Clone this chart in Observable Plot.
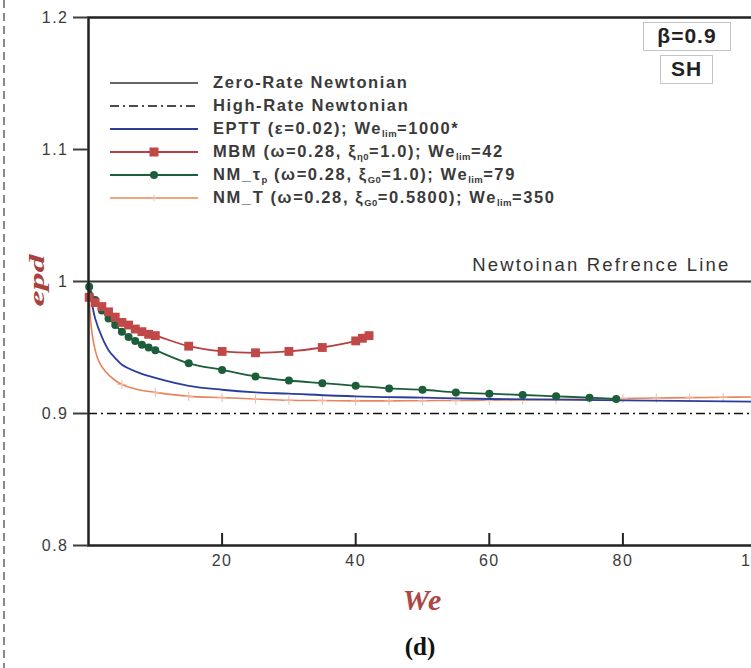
<!DOCTYPE html>
<html><head><meta charset="utf-8">
<script src="https://cdn.jsdelivr.net/npm/d3@7"></script>
<script src="https://cdn.jsdelivr.net/npm/@observablehq/plot@0.6"></script>
<style>
html,body{margin:0;padding:0;background:#fff;overflow:hidden;}
#wrap{position:relative;width:751px;height:668px;font-family:"Liberation Sans",Arial,sans-serif;overflow:hidden;}
#border{position:absolute;left:3px;top:0;width:2px;height:668px;background:repeating-linear-gradient(to bottom,#8a8a8a 0 8px,transparent 8px 13px);}
#chart{position:absolute;left:0;top:0;}
.legend{position:absolute;left:110px;top:71px;}
.row{display:flex;align-items:center;height:23px;}
.row svg{width:88px;height:14px;margin-right:15px;flex:none;}
.row span{font-size:16.5px;font-weight:bold;color:#3a3a3a;letter-spacing:1.6px;white-space:nowrap;}
.row sub{font-size:9.5px;letter-spacing:0.4px;vertical-align:-3px;line-height:0;}
.box{position:absolute;border:1.5px solid #c4c4c4;background:#fff;font-weight:bold;text-align:center;color:#222;box-sizing:border-box;letter-spacing:1px;}
#cap{position:absolute;left:370px;top:633px;width:100px;text-align:center;font-family:"Liberation Serif","Times New Roman",serif;font-weight:bold;font-size:25px;color:#111;}
</style>
</head><body>
<div id="wrap">
  <div id="chart"></div>
  <div id="border"></div>
  <div class="legend">
    <div class="row"><svg><line x1="0" x2="88" y1="7" y2="7" stroke="#333" stroke-width="1.6"/></svg><span>Zero-Rate Newtonian</span></div>
    <div class="row"><svg><line x1="0" x2="88" y1="7" y2="7" stroke="#111" stroke-width="1.6" stroke-dasharray="9,4,2,4"/></svg><span>High-Rate Newtonian</span></div>
    <div class="row"><svg><line x1="0" x2="88" y1="7" y2="7" stroke="#2c3e9c" stroke-width="1.8"/></svg><span>EPTT (ε=0.02); We<sub>lim</sub>=1000*</span></div>
    <div class="row"><svg><line x1="0" x2="88" y1="7" y2="7" stroke="#b5403f" stroke-width="1.8"/><rect x="39.5" y="2.5" width="9" height="9" fill="#c04848"/></svg><span>MBM (ω=0.28, ξ<sub>η0</sub>=1.0); We<sub>lim</sub>=42</span></div>
    <div class="row"><svg><line x1="0" x2="88" y1="7" y2="7" stroke="#1d5e3a" stroke-width="1.8"/><circle cx="44" cy="7" r="4" fill="#1d5e3a"/></svg><span>NM_τ<sub>p</sub> (ω=0.28, ξ<sub>G0</sub>=1.0); We<sub>lim</sub>=79</span></div>
    <div class="row"><svg><line x1="0" x2="88" y1="7" y2="7" stroke="#e8845c" stroke-width="1.6"/><path d="M41,7h6M44,4v6" stroke="#f3b8a4" stroke-width="1"/></svg><span>NM_T (ω=0.28, ξ<sub>G0</sub>=0.5800); We<sub>lim</sub>=350</span></div>
  </div>
  <div class="box" style="left:643px;top:22px;width:88px;height:29px;font-size:21px;line-height:26px;">β=0.9</div>
  <div class="box" style="left:660px;top:55px;width:53px;height:29px;font-size:21px;line-height:26px;">SH</div>
  <div id="cap">(d)</div>
</div>
<script>
// Axis ticks
const xTicks = [20, 40, 60, 80, 100];
const yTicks = [0.8, 0.9, 1.0, 1.1, 1.2];
// Reference lines
const refLine = [1.0];
const highRate = [0.9];

// EPTT (eps=0.02)
const EPTT_We = [0, 0.5, 1, 2, 3, 4, 5, 7.5, 10, 15, 20, 25, 30, 40, 50, 60, 80, 100];
const EPTT_y  = [1.0, 0.984, 0.972, 0.958, 0.948, 0.942, 0.937, 0.931, 0.927, 0.921, 0.918, 0.916, 0.915, 0.913, 0.912, 0.911, 0.910, 0.909];

// MBM
const MBM_We = [0.1, 1, 2, 3, 4, 5, 6, 7, 8, 9, 10, 15, 20, 25, 30, 35, 40, 41, 42];
const MBM_y  = [0.988, 0.984, 0.981, 0.977, 0.973, 0.969, 0.967, 0.964, 0.962, 0.960, 0.959, 0.951, 0.947, 0.946, 0.947, 0.950, 0.955, 0.957, 0.959];

// NM_tau_p
const NMP_We = [0.1, 1, 2, 3, 4, 5, 6, 7, 8, 9, 10, 15, 20, 25, 30, 35, 40, 45, 50, 55, 60, 65, 70, 75, 79];
const NMP_y  = [0.996, 0.986, 0.978, 0.972, 0.967, 0.962, 0.958, 0.955, 0.952, 0.950, 0.948, 0.938, 0.933, 0.928, 0.925, 0.923, 0.921, 0.919, 0.918, 0.916, 0.915, 0.914, 0.913, 0.912, 0.911];

// NM_T
const NMT_We = [0, 0.25, 0.5, 1, 1.5, 2.5, 4, 5, 7.5, 10, 15, 20, 25, 30, 35, 40, 45, 50, 55, 60, 65, 70, 75, 80, 85, 90, 95, 100];
const NMT_y  = [1.0, 0.975, 0.962, 0.948, 0.940, 0.932, 0.925, 0.922, 0.918, 0.916, 0.913, 0.912, 0.911, 0.910, 0.9098, 0.9096, 0.9096, 0.9097, 0.9099, 0.910, 0.9103, 0.9107, 0.911, 0.9113, 0.9117, 0.912, 0.9123, 0.9126];

const C = {eptt: "#2c3e9c", mbm: "#b5403f", mbmFill: "#c04848", nmp: "#1d5e3a", nmt: "#e8845c"};

const chart = Plot.plot({
  width: 751,
  height: 668,
  marginLeft: 88,
  marginRight: -5,
  marginTop: 17,
  marginBottom: 123,
  x: {domain: [0, 100], label: null},
  y: {domain: [0.8, 1.2], label: null},
  style: {fontFamily: "'Liberation Sans', Arial, sans-serif", background: "transparent", overflow: "hidden", letterSpacing: "1.5px"},
  marks: [
    Plot.ruleY(refLine, {y: d => d, stroke: "#333", strokeWidth: 2}),
    Plot.ruleY(highRate, {y: d => d, stroke: "#111", strokeWidth: 1.6, strokeDasharray: "9,4,2,4"}),
    Plot.line(NMT_y, {x: NMT_We, y: d => d, stroke: C.nmt, strokeWidth: 1.6, curve: "catmull-rom"}),
    Plot.dot(NMT_y, {x: NMT_We, y: d => d, filter: (d, i) => NMT_We[i] % 5 === 0 && NMT_We[i] > 0, symbol: "plus", r: 3, stroke: "#f3b8a4", strokeWidth: 1}),
    Plot.line(EPTT_y, {x: EPTT_We, y: d => d, stroke: C.eptt, strokeWidth: 1.8, curve: "catmull-rom"}),
    Plot.line(NMP_y, {x: NMP_We, y: d => d, stroke: C.nmp, strokeWidth: 1.8, curve: "catmull-rom"}),
    Plot.dot(NMP_y, {x: NMP_We, y: d => d, r: 4, fill: C.nmp, symbol: "circle"}),
    Plot.line(MBM_y, {x: MBM_We, y: d => d, stroke: C.mbm, strokeWidth: 1.8, curve: "catmull-rom"}),
    Plot.dot(MBM_y, {x: MBM_We, y: d => d, r: 5, fill: C.mbmFill, symbol: "square"}),
    Plot.frame({stroke: "#222", strokeWidth: 2.5}),
    Plot.axisY({ticks: yTicks, tickSize: 15, tickPadding: 5, strokeWidth: 2, fontSize: 16, color: "#3c3c3c",
      tickFormat: d => String(+d.toFixed(1)), label: null}),
    Plot.axisX({ticks: xTicks, tickSize: 0, tickPadding: 9, fontSize: 16, color: "#3c3c3c", label: null}),
    Plot.ruleX(xTicks, {x: d => d, insetTop: 528 - 12, stroke: "#222", strokeWidth: 2}),
    Plot.text(refLine, {y: d => d, text: () => "Newtoinan Refrence Line", frameAnchor: "right", dx: -26, dy: -16,
      textAnchor: "end", fontSize: 18.5, fill: "#333"}),
    Plot.text(["epd"], {frameAnchor: "left", dx: -52, dy: 25, rotate: -90, text: d => d, fontSize: 22,
      fontStyle: "italic", fontWeight: "bold", fontFamily: "'Liberation Serif', 'Times New Roman', serif", fill: "#a8423f"}),
    Plot.text(["We"], {frameAnchor: "bottom", dy: 55, lineAnchor: "middle", text: d => d, fontSize: 30,
      fontStyle: "italic", fontWeight: "bold", fontFamily: "'Liberation Serif', 'Times New Roman', serif", fill: "#b04545"})
  ]
});
// text styling tweaks (stretched look of the original figure)
d3.select(chart).selectAll("text").each(function() {
  const t = this.textContent;
  if (t === "Newtoinan Refrence Line") d3.select(this).attr("letter-spacing", "2.2px");
  if (t === "epd") d3.select(this).attr("letter-spacing", "0").attr("textLength", 52).attr("lengthAdjust", "spacingAndGlyphs");
  if (t === "We") d3.select(this).attr("letter-spacing", "1px");
});
document.getElementById("chart").appendChild(chart);
</script>
</body></html>
